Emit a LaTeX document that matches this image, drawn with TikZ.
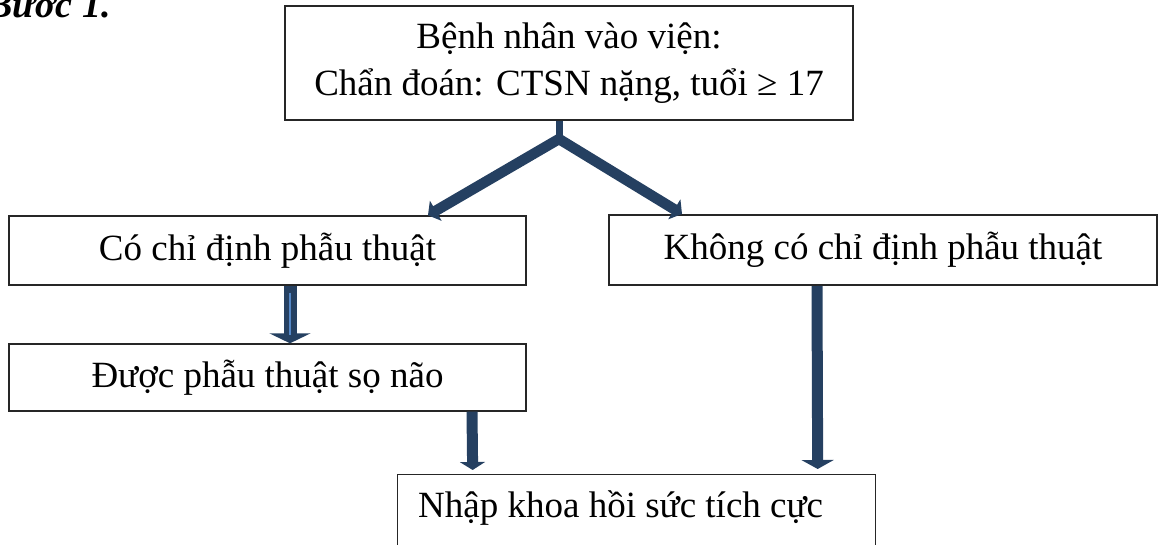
\documentclass[tikz,border=0pt]{standalone}
\usepackage{fontspec}
\setmainfont{Liberation Serif}
\usetikzlibrary{arrows.meta,calc}
\definecolor{arrowblue}{RGB}{37,64,97}
\definecolor{lightstripe}{RGB}{84,136,200}

\begin{document}
\begin{tikzpicture}[x=1pt,y=-1pt,
  box/.style={draw=black!85, line width=1.4pt, rectangle, inner sep=0pt,
    font=\fontsize{37}{47}\selectfont},
  flowtext/.style={font=\fontsize{37}{47}\selectfont, inner sep=0pt},
  forkarrow/.style={draw=arrowblue, line width=10.5pt, line join=miter,
    {Triangle[length=9pt,width=23pt]}-{Triangle[length=9pt,width=23pt]}},
  downarrow/.style={draw=arrowblue, line width=11pt},
]
\useasboundingbox (0,0) rectangle (1160,545);
\clip (0,0) rectangle (1160,545);

% step heading
\node[font=\fontsize{38}{40}\selectfont\bfseries\itshape, anchor=base east,
  inner sep=0pt] (title) at (111,18) {Bước 1.};

% boxes
\node[box, minimum width=568pt, minimum height=114pt, align=center]
  (admit) at (569,63) {Bệnh nhân vào viện:\\Chẩn đoán: CTSN nặng, tuổi ≥ 17};
\node[box, minimum width=517pt, minimum height=69pt]
  (surg) at (267.5,250.5) {Có chỉ định phẫu thuật};
\node[box, line width=2pt, minimum width=548pt, minimum height=70pt]
  (nosurg) at (883,250) {Không có chỉ định phẫu thuật};
\node[box, minimum width=517pt, minimum height=67pt]
  (op) at (267.5,377.5) {Được phẫu thuật sọ não};
\node[box, anchor=north west, minimum width=478pt, minimum height=140pt]
  (icu) at (397,474) {};
\node[flowtext, anchor=base west] (icutext) at (418,517)
  {Nhập khoa hồi sức tích cực};

% fork from the admission box
\coordinate (fork) at (559,139);
\draw[arrowblue, line width=7pt] ([xshift=-10pt]admit.south) -- ([yshift=4pt]fork);
\draw[forkarrow] ([xshift=160.5pt]surg.north) -- (fork) -- ([xshift=-201pt]nosurg.north);

% hollow-striped arrow to surgery
\draw[arrowblue, line width=13pt, -{Triangle[length=10pt,width=41pt]}]
  ([xshift=22.5pt]surg.south) -- ([xshift=22.5pt]op.north);
\draw[lightstripe, line width=2.6pt]
  ([shift={(22.5,7)}]surg.south) -- ([shift={(22.5,-8)}]op.north);

% arrows into the ICU box
\draw[downarrow, -{Triangle[length=8pt,width=25pt]}, shorten >=4pt]
  ([xshift=204.5pt]op.south) -- ([xshift=-164pt]icu.north);
\draw[downarrow, -{Triangle[length=9pt,width=32pt]}, shorten >=5pt]
  ([xshift=-66pt]nosurg.south) -- ([xshift=181pt]icu.north);
\end{tikzpicture}
\end{document}
